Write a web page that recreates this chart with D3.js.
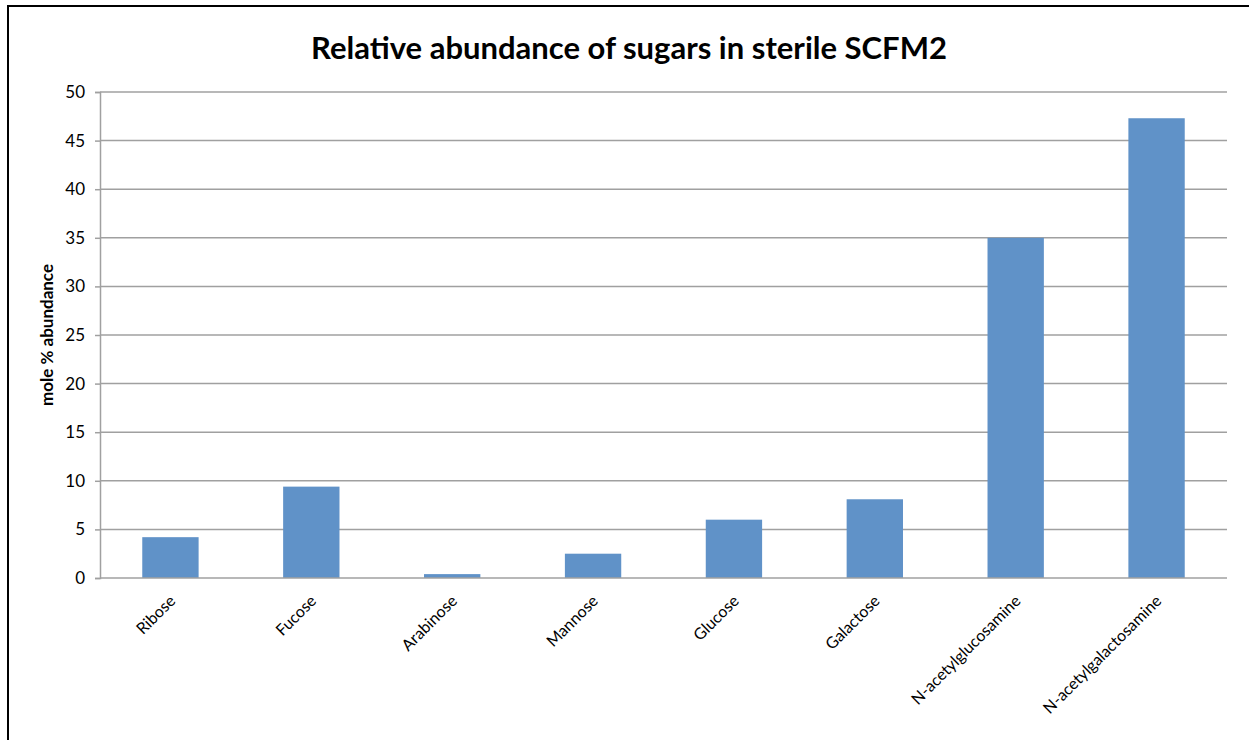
<!DOCTYPE html>
<html>
<head>
<meta charset="utf-8">
<script src="https://cdn.jsdelivr.net/npm/d3@7"></script>
<style>
  html, body { margin: 0; padding: 0; background: #fff; }
  svg { display: block; }
  text { font-family: Lato, "Open Sans", sans-serif; fill: #000; }
</style>
</head>
<body>
<svg id="chart" width="1249" height="740"></svg>
<script>
// Sugar composition of sterile SCFM2 (mole % abundance)
const sugars = ["Ribose", "Fucose", "Arabinose", "Mannose", "Glucose", "Galactose",
                "N-acetylglucosamine", "N-acetylgalactosamine"];
const molePercent = [4.2, 9.4, 0.4, 2.5, 6.0, 8.1, 35.0, 47.3];
const yTicks = [0, 5, 10, 15, 20, 25, 30, 35, 40, 45, 50];

const svg = d3.select("#chart");
const W = 1249, H = 740;
const plot = { left: 100, right: 1227, top: 92, bottom: 578 };

// chart frame
svg.append("rect")
  .attr("x", 8).attr("y", 6)
  .attr("width", W).attr("height", H)
  .attr("fill", "none").attr("stroke", "#000").attr("stroke-width", 2);

const x = d3.scaleBand()
  .domain(sugars)
  .range([plot.left, plot.right])
  .paddingInner(0.6).paddingOuter(0.3);

const y = d3.scaleLinear().domain([0, 50]).range([plot.bottom, plot.top]);

// horizontal gridlines
svg.append("g")
  .selectAll("line")
  .data(yTicks.filter(d => d > 0))
  .join("line")
  .attr("x1", plot.left).attr("x2", plot.right)
  .attr("y1", d => y(d)).attr("y2", d => y(d))
  .attr("stroke", "#a0a0a0").attr("stroke-width", 1.5);

// y axis
const yAxis = svg.append("g")
  .attr("transform", `translate(${plot.left},0)`)
  .call(d3.axisLeft(y).tickValues(yTicks).tickSize(5).tickPadding(10));
yAxis.select(".domain").attr("stroke", "#a0a0a0").attr("stroke-width", 1.5);
yAxis.selectAll(".tick line").attr("stroke", "#a0a0a0").attr("stroke-width", 1.5);
yAxis.selectAll(".tick text")
  .style("font-family", "Lato, sans-serif").style("font-size", "17px").attr("fill", "#000");

// bars
svg.append("g")
  .selectAll("rect")
  .data(sugars.map((s, i) => ({ s, v: molePercent[i] })))
  .join("rect")
  .attr("x", d => x(d.s))
  .attr("width", x.bandwidth())
  .attr("y", d => y(d.v))
  .attr("height", d => y(0) - y(d.v))
  .attr("fill", "#6092c8");

// x axis baseline and rotated category labels
const xAxis = svg.append("g")
  .attr("transform", `translate(0,${plot.bottom})`)
  .call(d3.axisBottom(x).tickSize(0).tickPadding(0));
xAxis.select(".domain").attr("stroke", "#a0a0a0").attr("stroke-width", 1.5)
  .attr("d", `M${plot.left},0H${plot.right}`);
xAxis.selectAll(".tick text")
  .style("font-family", "Lato, sans-serif").style("font-size", "16px").attr("fill", "#000")
  .attr("text-anchor", "end")
  .attr("dy", "0.35em")
  .attr("transform", "translate(2,20) rotate(-45)");

// y axis title
svg.append("text")
  .attr("transform", `translate(53,${(plot.top + plot.bottom) / 2}) rotate(-90)`)
  .attr("text-anchor", "middle")
  .style("font-size", "17px").style("font-weight", "bold")
  .text("mole % abundance");

// chart title
svg.append("text")
  .attr("x", 629).attr("y", 59)
  .attr("text-anchor", "middle")
  .style("font-size", "31px").style("font-weight", "bold")
  .text("Relative abundance of sugars in sterile SCFM2");
</script>
</body>
</html>
